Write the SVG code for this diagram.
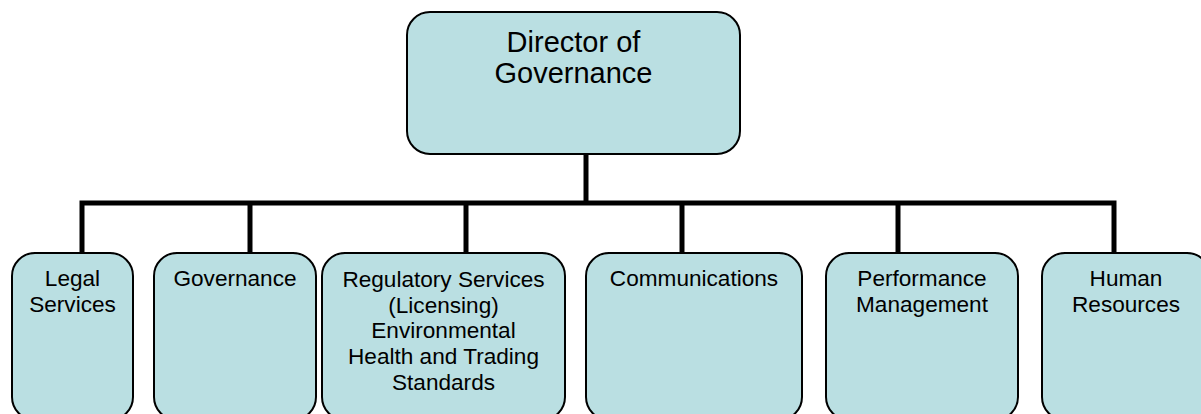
<svg xmlns="http://www.w3.org/2000/svg" width="1201" height="414" viewBox="0 0 1201 414">
<style>
.box{fill:#BADFE2;stroke:#000;stroke-width:2}
.t{font-family:"Liberation Sans",Arial,sans-serif;font-size:22.6px;fill:#000;text-anchor:middle}
.tt{font-family:"Liberation Sans",Arial,sans-serif;font-size:29px;fill:#000;text-anchor:middle}
.c{fill:none;stroke:#000;stroke-width:5;stroke-linecap:butt;stroke-linejoin:miter}
</style>
<rect width="1201" height="414" fill="#fff"/>
<g id="connectors">
<path class="c" d="M586 154V203"/>
<path class="c" d="M82 253V203H1114V253"/>
<path class="c" d="M250 203V253"/>
<path class="c" d="M466 203V253"/>
<path class="c" d="M682 203V253"/>
<path class="c" d="M898 203V253"/>
</g>
<g id="director">
<rect class="box" x="407" y="12" width="333" height="142" rx="23"/>
<text class="tt" x="573.5" y="52">Director of</text>
<text class="tt" x="573.5" y="83">Governance</text>
</g>
<g id="legal">
<rect class="box" x="12" y="253" width="121" height="167" rx="23"/>
<text class="t" x="72.5" y="286">Legal</text>
<text class="t" x="72.5" y="312">Services</text>
</g>
<g id="governance">
<rect class="box" x="154" y="253" width="162" height="167" rx="23"/>
<text class="t" x="235" y="286">Governance</text>
</g>
<g id="regulatory">
<rect class="box" x="322" y="253" width="243" height="167" rx="23"/>
<text class="t" x="443.5" y="287">Regulatory Services</text>
<text class="t" x="443.5" y="313">(Licensing)</text>
<text class="t" x="443.5" y="338">Environmental</text>
<text class="t" x="443.5" y="364">Health and Trading</text>
<text class="t" x="443.5" y="390">Standards</text>
</g>
<g id="communications">
<rect class="box" x="586" y="253" width="216" height="167" rx="23"/>
<text class="t" x="694" y="286">Communications</text>
</g>
<g id="performance">
<rect class="box" x="826" y="253" width="192" height="167" rx="23"/>
<text class="t" x="922" y="286">Performance</text>
<text class="t" x="922" y="312">Management</text>
</g>
<g id="hr">
<rect class="box" x="1042" y="253" width="168" height="167" rx="23"/>
<text class="t" x="1126" y="286">Human</text>
<text class="t" x="1126" y="312">Resources</text>
</g>
</svg>
